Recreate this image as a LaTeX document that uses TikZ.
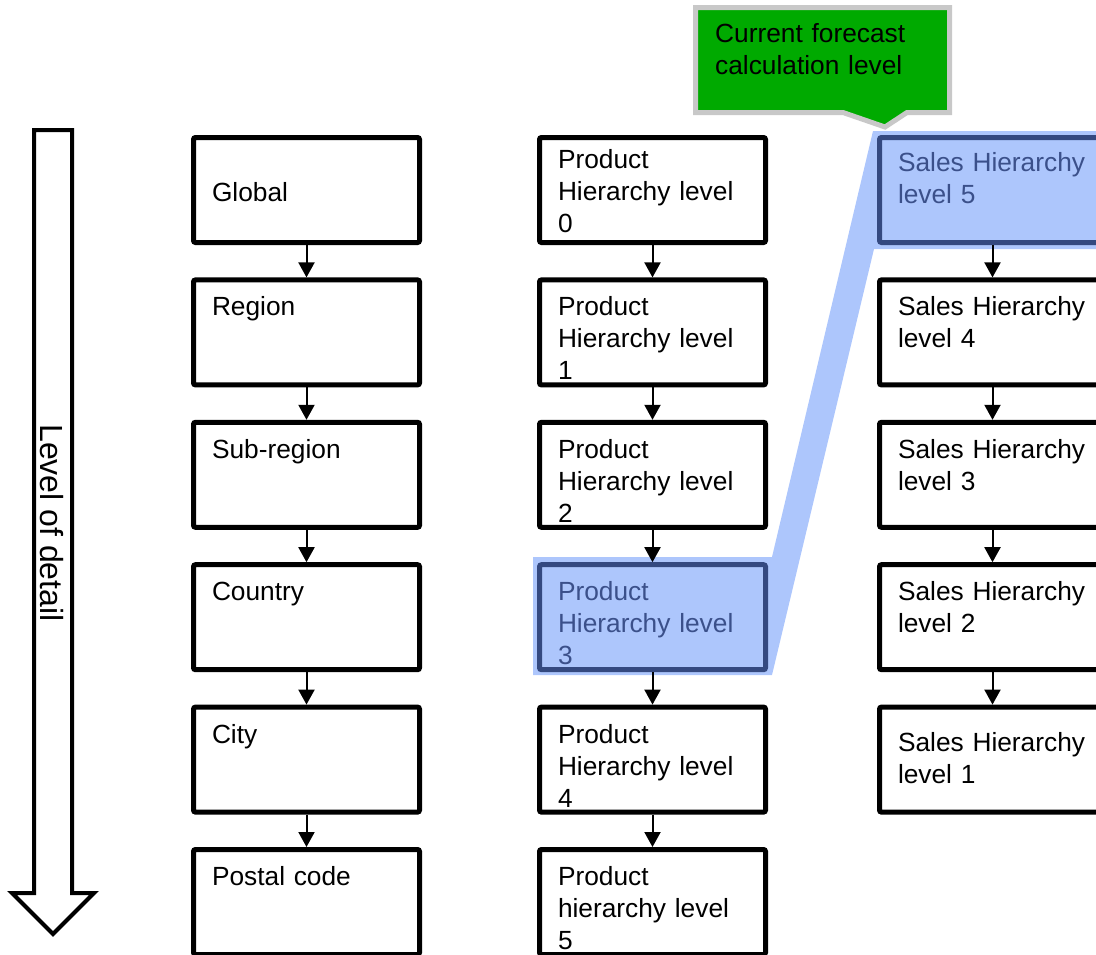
\documentclass[tikz,border=0pt]{standalone}
\usepackage{fontspec}
\setmainfont{Liberation Sans}
\usepackage{tikz}
\usetikzlibrary{arrows.meta}

\definecolor{hiblue}{RGB}{52,73,128}
\definecolor{hifill}{RGB}{173,198,252}
\definecolor{hitext}{RGB}{59,80,138}
\definecolor{notegreen}{RGB}{0,170,0}
\definecolor{notegray}{RGB}{200,200,200}

\newcommand{\boxfont}{\fontsize{26.3}{32}\selectfont}

\tikzset{
  lvlbox/.style={draw, line width=5pt, rounded corners=2pt, fill=white, anchor=north west,
    text width=189pt, align=left, inner xsep=18.5pt, inner ysep=0pt,
    text height=35.9pt, text depth=69.1pt, font=\boxfont},
  hilite/.style={draw=hiblue, fill=hifill, text=hitext},
  flow/.style={line width=2pt, -{Triangle[width=16pt,length=15pt]}},
}

\begin{document}
\begin{tikzpicture}[x=1pt, y=-1pt]
        \useasboundingbox (0,0) rectangle (1096,954);

        % level of detail arrow
        \draw[line width=4pt, line join=miter, fill=white] (34,130) -- (72,130) -- (72,893) -- (94,893)
            -- (53,934) -- (12,893) -- (34,893) -- cycle;
        \node[rotate=-90, font=\fontsize{32}{38}\selectfont, inner sep=0pt] (lod) at (52,523) {Level of detail};

        % highlight band
        \fill[hifill] (533,557) -- (772,557) -- (873,131) -- (1110,131) -- (1110,249) -- (874,249)
            -- (772,675) -- (533,675) -- cycle;

        % geography
        \node[lvlbox, text height=64.2pt, text depth=40.8pt] (g0) at (191,135) {Global};
        \node[lvlbox] (g1) at (191,277.4) {Region};
        \node[lvlbox] (g2) at (191,419.8) {Sub-region};
        \node[lvlbox] (g3) at (191,562.2) {Country};
        \node[lvlbox] (g4) at (191,704.6) {City};
        \node[lvlbox] (g5) at (191,847) {Postal code};

        % product
        \node[lvlbox, text height=30.9pt, text depth=74.1pt] (p0) at (537,135) {Product\\Hierarchy level\\0};
        \node[lvlbox] (p1) at (537,277.4) {Product\\Hierarchy level\\1};
        \node[lvlbox] (p2) at (537,419.8) {Product\\Hierarchy level\\2};
        \node[lvlbox, hilite] (p3) at (537,562.2) {Product\\Hierarchy level\\3};
        \node[lvlbox] (p4) at (537,704.6) {Product\\Hierarchy level\\4};
        \node[lvlbox] (p5) at (537,847) {Product\\hierarchy level\\5};

        % sales
        \node[lvlbox, hilite, text height=34.2pt, text depth=70.8pt] (s5) at (877,135) {Sales Hierarchy\\level 5};
        \node[lvlbox] (s4) at (877,277.4) {Sales Hierarchy\\level 4};
        \node[lvlbox] (s3) at (877,419.8) {Sales Hierarchy\\level 3};
        \node[lvlbox] (s2) at (877,562.2) {Sales Hierarchy\\level 2};
        \node[lvlbox, text height=44.2pt, text depth=60.8pt] (s1) at (877,704.6) {Sales Hierarchy\\level 1};

        \foreach \a/\b in {g0/g1, g1/g2, g2/g3, g3/g4, g4/g5, p0/p1, p1/p2, p2/p3, p3/p4, p4/p5,
            s5/s4, s4/s3, s3/s2, s2/s1}
            \draw[flow] (\a.south) -- (\b.north);

        % callout
        \draw[line width=5pt, draw=notegray, fill=notegreen] (695.5,7.5) -- (949.5,7.5) -- (949.5,112.5)
            -- (907,112.5) -- (885,127) -- (843,112.5) -- (695.5,112.5) -- cycle;
        \node[font=\boxfont, text width=230pt, align=left, inner sep=0pt, anchor=base west] (note)
            at (715,42.5) {Current forecast\\calculation level};
    \end{tikzpicture}
\end{document}
